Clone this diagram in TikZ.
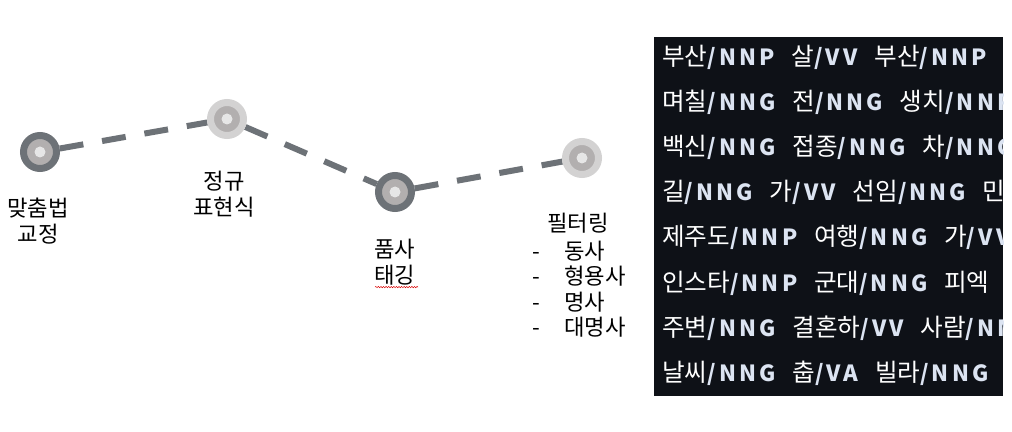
\documentclass[tikz,border=0pt]{standalone}
\usepackage{fontspec}
\setmainfont{Noto Sans CJK KR}
\newfontfamily\tagfont{Noto Sans CJK KR}[LetterSpace=14]
\usetikzlibrary{positioning, decorations.pathmorphing}
\definecolor{ringdark}{HTML}{6D7277}
\definecolor{ringlight}{HTML}{D3D2D2}
\definecolor{midgray}{HTML}{B2AFAF}
\definecolor{dotgray}{HTML}{E6E6E6}
\definecolor{panelbg}{HTML}{0E1117}
\definecolor{tagcol}{HTML}{DCE4F2}
\pgfdeclarelayer{bg}
\pgfsetlayers{bg,main}
\newcommand{\tg}[1]{{\tagfont\bfseries\fontsize{19}{22}\selectfont\color{tagcol}/#1}}
\newcommand{\tokgap}{\hspace{0.5cm}}
\tikzset{
    x=0.03cm, y=-0.03cm, % one unit is one pixel of the sketch
    ringnode/.style={circle, line width=0.21cm, minimum size=0.99cm, inner sep=0pt, fill=midgray,
        path picture={\fill[dotgray] (path picture bounding box.center) circle (0.165cm);}},
    darkring/.style={ringnode, draw=ringdark}, % finished step
    lightring/.style={ringnode, draw=ringlight}, % open step
    conn/.style={ringdark, line width=0.18cm, dash pattern=on 0.72cm off 0.57cm}, % dashed path between steps
    steplabel/.style={inner sep=0pt, font=\fontsize{19}{21.8}\selectfont},
    panelline/.style={anchor=west, inner sep=0pt, text=white, font=\fontsize{21}{24}\selectfont},
    spellmark/.style={red!85!black, line width=0.4pt, decorate, decoration={snake, amplitude=0.6pt, segment length=2.2pt}},
}
\begin{document}
\begin{tikzpicture}
    \useasboundingbox (0,0) rectangle (1012,432);
    % steps
    \node[darkring] (n1) at (40,152) {};
    \node[lightring] (n2) at (227,119) {};
    \node[darkring] (n3) at (395,192) {};
    \node[lightring] (n4) at (582,158) {};
    \begin{pgfonlayer}{bg}
        \draw[conn]
        (n1) edge (n2)
        (n2) edge (n3)
        (n3) edge (n4);
    \end{pgfonlayer}
    % labels
    \node[steplabel, align=center] (l1) at (38,221) {맞춤법\\교정};
    \node[steplabel, align=center] (l2) at (224,194) {정규\\표현식};
    \node[steplabel, align=left, anchor=west] (l3) at (374,262) {품사\\태깅};
    \draw[spellmark] ([shift={(1,2)}]l3.south west) -- +(43,0);
    \node[steplabel] (l4) at (578,223) {필터링};
    \node[steplabel, align=left, anchor=west] (l5) at (532,289) {%
        \makebox[0.96cm][l]{-}동사\\
        \makebox[0.96cm][l]{-}형용사\\
        \makebox[0.96cm][l]{-}명사\\
        \makebox[0.96cm][l]{-}대명사};
    % tagged sample
    \fill[panelbg] (654,37) rectangle (1003,396);
    \begin{scope}
        \clip (654,37) rectangle (1003,396);
        \foreach \txt [count=\i from 0] in {
            부산\tg{NNP}\tokgap 살\tg{VV}\tokgap 부산\tg{NNP},
            며칠\tg{NNG}\tokgap 전\tg{NNG}\tokgap 생치\tg{NNP},
            백신\tg{NNG}\tokgap 접종\tg{NNG}\tokgap 차\tg{NNG},
            길\tg{NNG}\tokgap 가\tg{VV}\tokgap 선임\tg{NNG}\tokgap 민,
            제주도\tg{NNP}\tokgap 여행\tg{NNG}\tokgap 가\tg{VV},
            인스타\tg{NNP}\tokgap 군대\tg{NNG}\tokgap 피엑,
            주변\tg{NNG}\tokgap 결혼하\tg{VV}\tokgap 사람\tg{NNG},
            날씨\tg{NNG}\tokgap 춥\tg{VA}\tokgap 빌라\tg{NNG}}
            \node[panelline] (p\i) at (662,{57+45.2*\i}) {\txt};
    \end{scope}
\end{tikzpicture}
\end{document}
